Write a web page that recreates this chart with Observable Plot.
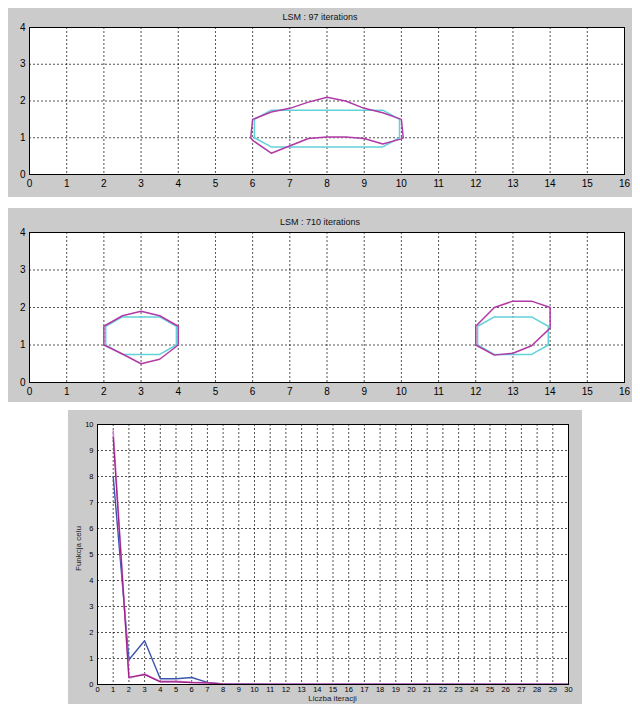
<!DOCTYPE html>
<html>
<head>
<meta charset="utf-8">
<script src="https://cdn.jsdelivr.net/npm/d3@7"></script>
<script src="https://cdn.jsdelivr.net/npm/@observablehq/plot@0.6"></script>
<style>
  html, body { margin: 0; padding: 0; background: #ffffff; width: 640px; height: 704px; overflow: hidden; }
  .panel { position: absolute; background: #cbcbcb; }
  .panel svg { position: absolute; left: 0; top: 0; overflow: visible; }
  .title { position: absolute; left: 0; right: 0; text-align: center; font: 9px "Liberation Sans", Arial, sans-serif; color: #111; }
  .xlab { position: absolute; text-align: center; font: 8px/8px "Liberation Sans", Arial, sans-serif; color: #222; }
  .ylab { position: absolute; font: 8px "Liberation Sans", Arial, sans-serif; color: #222; transform: rotate(-90deg); transform-origin: center; white-space: nowrap; }
</style>
</head>
<body>
<div id="root"></div>
<script>
// ---------- data ----------
const titles = ["LSM : 97 iterations", "LSM : 710 iterations"];
const xTicksShape = d3.range(0, 17);
const yTicksShape = d3.range(0, 5);

// Panel 1: target shape (cyan) and recovered shape (magenta)
const p1Target = [[6.5,1.75],[9.5,1.75],[9.95,1.5],[9.95,1.0],[9.5,0.75],[6.5,0.75],[6.05,1.0],[6.05,1.5],[6.5,1.75]];
const p1Result = [[6.0,1.5],[6.5,1.7],[7.0,1.8],[7.5,1.97],[8.0,2.1],[8.5,2.0],[9.0,1.8],[9.5,1.68],[10.0,1.5],[10.05,1.0],[10.0,0.97],[9.5,0.83],[9.0,0.98],[8.5,1.02],[8.0,1.02],[7.5,0.98],[6.5,0.58],[6.0,0.93],[5.95,1.0],[6.0,1.5]];

// Panel 2: two target shapes and two recovered shapes
const p2TargetA = [[2.5,1.75],[3.5,1.75],[3.95,1.5],[3.95,1.0],[3.5,0.75],[2.5,0.75],[2.05,1.0],[2.05,1.5],[2.5,1.75]];
const p2ResultA = [[2.0,1.5],[2.5,1.78],[3.0,1.9],[3.5,1.78],[4.0,1.5],[4.0,1.0],[3.5,0.62],[3.0,0.5],[2.5,0.76],[2.0,1.0],[2.0,1.5]];
const p2TargetB = [[12.5,1.75],[13.5,1.75],[13.95,1.5],[13.95,1.0],[13.5,0.75],[12.5,0.75],[12.05,1.0],[12.05,1.5],[12.5,1.75]];
const p2ResultB = [[12.0,1.5],[12.5,2.0],[13.0,2.17],[13.5,2.17],[14.0,2.0],[14.0,1.45],[13.5,0.98],[13.0,0.78],[12.5,0.73],[12.0,1.0],[12.0,1.5]];

// Panel 3: objective function vs iteration
const iters = d3.range(1, 31);
const blueVals  = [8.0, 0.95, 1.68, 0.22, 0.22, 0.27, 0.08, 0.02, 0.02, 0.02, 0.01,0.01,0.01,0.01,0.01,0.01,0.01,0.01,0.01,0.01,0.01,0.01,0.01,0.01,0.01,0.01,0.01,0.01,0.01,0.01];
const pinkVals  = [9.75, 0.25, 0.4, 0.12, 0.12, 0.08, 0.07, 0.02, 0.01, 0.01, 0.01,0.01,0.01,0.01,0.01,0.01,0.01,0.01,0.01,0.01,0.01,0.01,0.01,0.01,0.01,0.01,0.01,0.01,0.01,0.01];
const darkVals  = [9.5, 0.28, 0.38, 0.1, 0.1, 0.07, 0.06, 0.02, 0.01, 0.01, 0.01,0.01,0.01,0.01,0.01,0.01,0.01,0.01,0.01,0.01,0.01,0.01,0.01,0.01,0.01,0.01,0.01,0.01,0.01,0.01];
const xTicksIter = d3.range(0, 31);
const yTicksIter = d3.range(0, 11);
const xLabel3 = "Liczba iteracji";
const yLabel3 = "Funkcja celu";

// ---------- helpers ----------
const FONT = '"Liberation Sans", Arial, sans-serif';
const cyan = "#62d2da";
const magenta = "#b23aa6";
const root = document.getElementById("root");
const intFmt = d3.format("d");

function panel(left, top, w, h) {
  const d = document.createElement("div");
  d.className = "panel";
  Object.assign(d.style, {left: left + "px", top: top + "px", width: w + "px", height: h + "px"});
  root.appendChild(d);
  return d;
}

function gridMarks(xt, yt) {
  return [
    Plot.frame({fill: "white"}),
    Plot.gridX(xt, {stroke: "#000", strokeOpacity: 0.85, strokeDasharray: "2,2", strokeWidth: 0.8}),
    Plot.gridY(yt, {stroke: "#000", strokeOpacity: 0.85, strokeDasharray: "2,2", strokeWidth: 0.8})
  ];
}

function shapePanel(top, h, mt, mb, title, shapes) {
  const d = panel(8, top, 624, h);
  const marks = [...gridMarks(xTicksShape, yTicksShape)];
  for (const s of shapes) {
    marks.push(Plot.line(s.data, {x: p => p[0], y: p => p[1], stroke: s.color, strokeWidth: 1.5}));
  }
  marks.push(Plot.frame({stroke: "#000", strokeWidth: 1}));
  const svg = Plot.plot({
    width: 624, height: h,
    marginLeft: 21, marginRight: 8, marginTop: mt, marginBottom: mb,
    style: {background: "transparent", fontFamily: FONT, fontSize: "10px", color: "#000"},
    x: {domain: [0, 16], ticks: xTicksShape, tickFormat: intFmt, tickSize: 0, tickPadding: 5, label: null},
    y: {domain: [0, 4], ticks: yTicksShape, tickFormat: intFmt, tickSize: 0, tickPadding: 4, label: null},
    marks
  });
  d.appendChild(svg);
  const t = document.createElement("div");
  t.className = "title";
  t.style.top = (mt - 15) + "px";
  t.textContent = title;
  d.appendChild(t);
}

shapePanel(8, 189, 19, 23, titles[0], [
  {data: p1Target, color: cyan},
  {data: p1Result, color: magenta}
]);

shapePanel(208, 194, 24, 20, titles[1], [
  {data: p2TargetA, color: cyan},
  {data: p2TargetB, color: cyan},
  {data: p2ResultA, color: magenta},
  {data: p2ResultB, color: magenta}
]);

// Panel 3
{
  const d = panel(68, 410, 514, 294);
  const rows = (vals) => iters.map((x, i) => ({x, y: vals[i]}));
  const svg = Plot.plot({
    width: 514, height: 294,
    marginLeft: 29, marginRight: 14, marginTop: 14, marginBottom: 20,
    style: {background: "transparent", fontFamily: FONT, fontSize: "7.5px", color: "#000"},
    x: {domain: [0, 30], ticks: xTicksIter, tickFormat: intFmt, tickSize: 0, tickPadding: 2, label: null},
    y: {domain: [0, 10], ticks: yTicksIter, tickFormat: intFmt, tickSize: 0, tickPadding: 4, label: null},
    marks: [
      ...gridMarks(xTicksIter, yTicksIter),
      Plot.line(rows(blueVals), {x: "x", y: "y", stroke: "#3a55b0", strokeWidth: 1.4}),
      Plot.line(rows(pinkVals), {x: "x", y: "y", stroke: "#d27ccd", strokeWidth: 1.6}),
      Plot.line(rows(darkVals), {x: "x", y: "y", stroke: "#9c2088", strokeWidth: 1.2}),
      Plot.frame({stroke: "#000", strokeWidth: 1})
    ]
  });
  d.appendChild(svg);
  const xl = document.createElement("div");
  xl.className = "xlab";
  Object.assign(xl.style, {left: "29px", width: (514 - 29 - 14) + "px", top: "285px"});
  xl.textContent = xLabel3;
  d.appendChild(xl);
  const yl = document.createElement("div");
  yl.className = "ylab";
  Object.assign(yl.style, {left: "-18px", top: "134px", width: "56px", textAlign: "center"});
  yl.textContent = yLabel3;
  d.appendChild(yl);
}
</script>
</body>
</html>
